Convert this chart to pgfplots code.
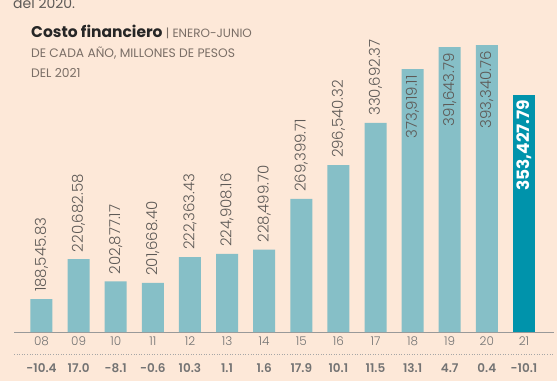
\documentclass[border=0pt]{standalone}
\usepackage{pgfplots}
\pgfplotsset{compat=1.18}
\usepackage{fontspec}
\setmainfont{Poppins}
\newfontfamily\light{Poppins}[UprightFont=* Light]
\definecolor{bg}{HTML}{FDE8D8}
\definecolor{barl}{HTML}{86BFC7}
\definecolor{bard}{HTML}{0093AB}
\definecolor{txt}{HTML}{5E5A57}
\definecolor{ttl}{HTML}{7A6E66}
\begin{document}
\begin{tikzpicture}
\useasboundingbox (0pt,0pt) rectangle (557pt,381pt);
\clip (0pt,0pt) rectangle (557pt,381pt);
\fill[bg] (0pt,0pt) rectangle (557pt,381pt);
\node[anchor=base west, inner sep=0, font=\fontsize{14}{16}\selectfont, text=txt] at (13pt,372pt) {del 2020.};
\node[anchor=base west, inner sep=0, font=\fontsize{15.5}{17}\selectfont\bfseries, text=black!85] at (31pt,343pt) {Costo financiero \mdseries\color{ttl}\fontsize{12}{14}\selectfont| ENERO-JUNIO};
\node[anchor=base west, inner sep=0, font=\fontsize{12.3}{14}\selectfont, text=ttl] at (31pt,323pt) {DE CADA AÑO, MILLONES DE PESOS};
\node[anchor=base west, inner sep=0, font=\fontsize{12.3}{14}\selectfont, text=ttl] at (31pt,303pt) {DEL 2021};
\begin{scope}[shift={(14pt,49pt)}]
\begin{axis}[
  at={(0pt,0pt)}, anchor=south west,
  scale only axis, width=540pt, height=312pt,
  xmin=-0.741, xmax=13.81, ymin=162000, ymax=413600,
  axis x line=bottom, axis y line=none,
  axis line style={-, draw=black!40, line width=0.6pt},
  ybar, bar width=22pt, bar shift=0pt,
  xtick={0,...,13}, major tick length=0pt,
  xticklabels={08\\[13pt]\textbf{-10.4},09\\[13pt]\textbf{17.0},10\\[13pt]\textbf{-8.1},11\\[13pt]\textbf{-0.6},12\\[13pt]\textbf{10.3},13\\[13pt]\textbf{1.1},14\\[13pt]\textbf{1.6},15\\[13pt]\textbf{17.9},16\\[13pt]\textbf{10.1},17\\[13pt]\textbf{11.5},18\\[13pt]\textbf{13.1},19\\[13pt]\textbf{4.7},20\\[13pt]\textbf{0.4},21\\[13pt]\textbf{-10.1}},
  xticklabel style={align=center, font=\fontsize{12}{14}\selectfont\light, text=black!55, anchor=north, yshift=-1pt},
  point meta=explicit symbolic,
  clip=false,
]
\addplot[fill=barl, draw=none, nodes near coords, every node near coord/.append style={rotate=90, anchor=west, inner xsep=7pt, font=\fontsize{15}{17}\selectfont\light, text=txt}]
  table[x=x, y=y, meta=lab] {
x y lab
0 188545.83 188,545.83
1 220682.58 220,682.58
2 202877.17 202,877.17
3 201668.40 201,668.40
4 222363.43 222,363.43
5 224908.16 224,908.16
6 228499.70 228,499.70
7 269399.71 269,399.71
8 296540.32 296,540.32
9 330692.37 330,692.37
};
\addplot[fill=barl, draw=none, nodes near coords, every node near coord/.append style={rotate=90, anchor=east, inner xsep=6pt, font=\fontsize{15}{17}\selectfont\light, text=txt}]
  table[x=x, y=y, meta=lab] {
x y lab
10 373919.11 373,919.11
11 391643.79 391,643.79
12 393340.76 393,340.76
};
\addplot[fill=bard, draw=none, nodes near coords, every node near coord/.append style={rotate=90, anchor=east, inner xsep=5pt, font=\fontsize{17}{19}\selectfont\bfseries, text=white}]
  table[x=x, y=y, meta=lab] {
x y lab
13 353427.79 353,427.79
};
\end{axis}
\end{scope}
\draw[black!35, dotted, line width=0.6pt] (14pt,27pt) -- (554pt,27pt);
\end{tikzpicture}
\end{document}
